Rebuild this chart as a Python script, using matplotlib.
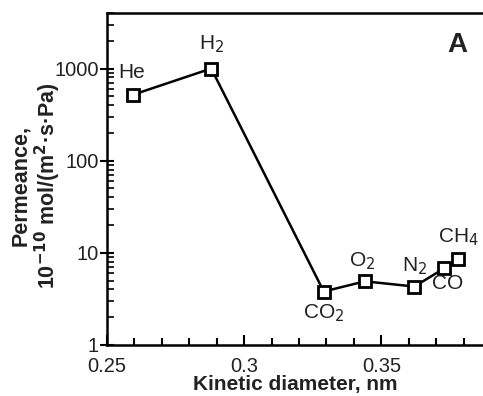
import matplotlib.pyplot as plt
from matplotlib.ticker import MultipleLocator, LogLocator, NullFormatter, FixedLocator

plt.rcParams["font.family"] = ["Liberation Sans", "DejaVu Sans"]

gases = ["He", "H$_2$", "CO$_2$", "O$_2$", "N$_2$", "CO", "CH$_4$"]
diameter = [0.2595, 0.288, 0.329, 0.344, 0.362, 0.373, 0.378]
permeance = [520, 1000, 3.8, 4.9, 4.3, 6.8, 8.5]
# label offsets in points (dx, dy) and alignment
offsets = [(-1, 9), (0, 10), (0, -8), (-2, 7), (0, 7), (2, -4), (0, 8)]
aligns = [("center", "bottom"), ("center", "bottom"), ("center", "top"),
          ("center", "bottom"), ("center", "bottom"), ("center", "top"),
          ("center", "bottom")]

txt = "#222222"

fig = plt.figure(figsize=(4.83, 3.96), dpi=100)
ax = fig.add_axes([0.2215, 0.129, 0.78, 0.838])

ax.plot(diameter, permeance, color="black", lw=1.8, marker="s", ms=9,
        mfc="white", mec="black", mew=2.0, zorder=3)

for name, x, y, (dx, dy), (ha, va) in zip(gases, diameter, permeance, offsets, aligns):
    ax.annotate(name, (x, y), xytext=(dx, dy), textcoords="offset points",
                ha=ha, va=va, fontsize=15, color=txt)

ax.set_yscale("log")
ax.set_ylim(1, 4000)
ax.set_xlim(0.25, 0.3873)

ax.xaxis.set_major_locator(FixedLocator([0.25, 0.3, 0.35]))
ax.xaxis.set_minor_locator(MultipleLocator(0.01))
ax.set_xticklabels(["0.25", "0.3", "0.35"])
ax.yaxis.set_major_locator(FixedLocator([1, 10, 100, 1000]))
ax.set_yticklabels(["1", "10", "100", "1000"])
ax.yaxis.set_minor_locator(LogLocator(base=10, subs=range(2, 10)))
ax.yaxis.set_minor_formatter(NullFormatter())

ax.tick_params(which="major", axis="x", direction="in", length=7, width=1.5,
               labelsize=14.5, labelcolor=txt, pad=9)
ax.tick_params(which="minor", axis="x", direction="in", length=5, width=1.5)
ax.tick_params(which="major", axis="y", direction="inout", length=10, width=1.5,
               labelsize=14.5, labelcolor=txt, pad=1)
ax.tick_params(which="minor", axis="y", direction="in", length=5, width=1.2)

for s in ["left", "bottom", "top"]:
    ax.spines[s].set_linewidth(1.8)
ax.spines["right"].set_visible(False)

ax.set_xlabel("Kinetic diameter, nm", fontsize=15, fontweight="bold",
              color=txt, labelpad=-1)
ax.set_ylabel("Permeance,\n10$^{\\mathbf{-10}}$ mol/(m$^{\\mathbf{2}}$·s·Pa)",
              fontsize=15.5, fontweight="bold", color=txt, linespacing=1.05)
ax.yaxis.set_label_coords(-0.117, 0.48)

ax.text(0.929, 0.904, "A", transform=ax.transAxes, fontsize=20,
        fontweight="bold", color=txt, ha="center", va="center")

fig.savefig("out.png", dpi=100)
